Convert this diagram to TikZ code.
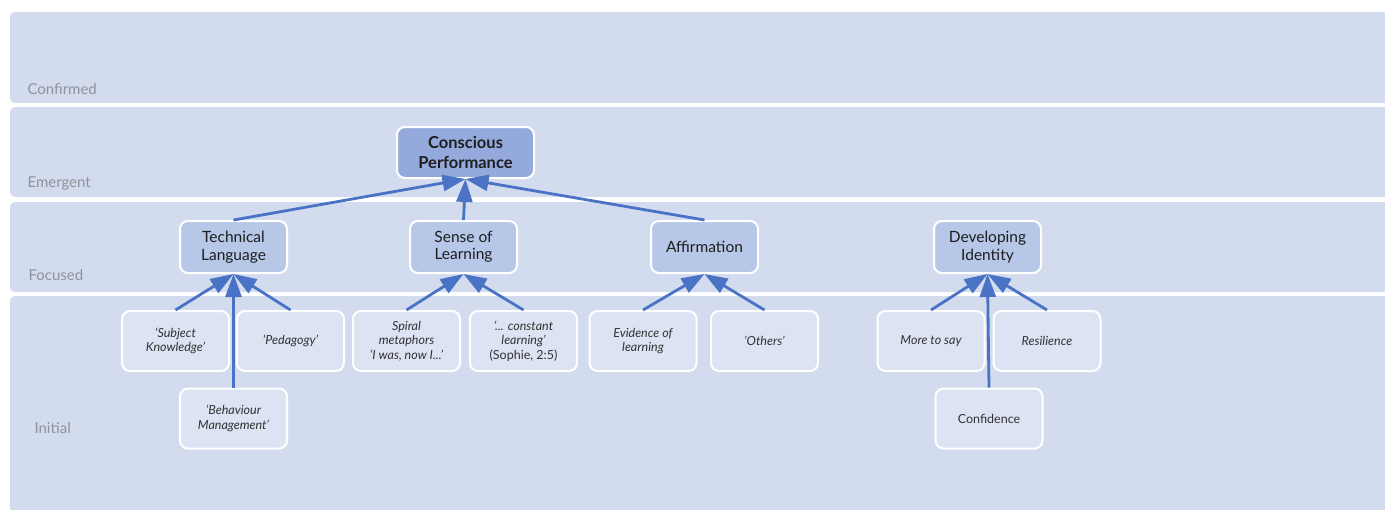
\documentclass[tikz,border=0pt]{standalone}
\usepackage{fontspec}
\setmainfont{Lato}
\usetikzlibrary{arrows.meta}

\definecolor{bandfill}{HTML}{D3DCEE}
\definecolor{lvlgrey}{HTML}{8E929A}
\definecolor{corefill}{HTML}{95AADC}
\definecolor{focusfill}{HTML}{B6C7E8}
\definecolor{codefill}{HTML}{DCE3F3}
\definecolor{linkblue}{HTML}{4A73C6}
\definecolor{textdark}{HTML}{1E1E1E}

\tikzset{
  band/.style={fill=bandfill, rounded corners=5pt},
  lvl/.style={anchor=base west, text=lvlgrey, font=\fontsize{15}{17}\selectfont},
  focus/.style={draw=white, line width=2pt, rounded corners=8pt, fill=focusfill,
    minimum width=107pt, minimum height=52pt, inner sep=2pt, align=center,
    text=textdark, font=\fontsize{15.5}{17.5}\selectfont},
  core/.style={focus, fill=corefill, minimum width=137pt, minimum height=51pt,
    font=\bfseries\fontsize{16.5}{20}\selectfont},
  code/.style={focus, fill=codefill, minimum height=60pt, text=black!80,
    font=\itshape\fontsize{12.5}{14.5}\selectfont},
  link/.style={draw=linkblue, line width=2.8pt, -{Triangle[length=23pt,width=16pt]}}
}

\begin{document}
\begin{tikzpicture}[x=1pt,y=-1pt]
\clip (0,0) rectangle (1385,509);

%Ebenen
\foreach \top/\bot in {12/103, 107/197, 202/292, 296/520}
{
	\fill[band] (10,\top) rectangle (1400,\bot);
}
\node[lvl] (lconf) at (24,94) {Confirmed};
\node[lvl] (lemer) at (24,187) {Emergent};
\node[lvl] (lfocu) at (25,280) {Focused};
\node[lvl] (linit) at (31,433) {Initial};

%Kategorien
\node[core] (cp) at (465.5,152.5) {Conscious\\Performance};
\node[focus] (tl) at (233.5,247) {Technical\\Language};
\node[focus] (sol) at (463.5,247) {Sense of\\Learning};
\node[focus] (aff) at (704.5,247) {Affirmation};
\node[focus] (di) at (987.5,247) {Developing\\Identity};

%Codes
\node[code] (sk) at (175.5,341) {‘Subject\\Knowledge’};
\node[code] (ped) at (290.5,341) {‘Pedagogy’};
\node[code] (spi) at (406.5,341) {Spiral\\metaphors\\‘I was, now I...’};
\node[code] (con) at (523.5,341) {‘... constant\\learning’\\\upshape(Sophie, 2:5)};
\node[code] (evi) at (643,341) {Evidence of\\learning};
\node[code] (oth) at (764.5,341) {'Others'};
\node[code] (mts) at (931,341) {More to say};
\node[code] (res) at (1047,341) {Resilience};
\node[code] (beh) at (233.5,418.5) {‘Behaviour\\Management’};
\node[code, font=\upshape\fontsize{12.5}{14.5}\selectfont] (conf) at (989,418.5) {Confidence};

%Pfeile
\foreach \from/\to in {tl/cp, sol/cp, aff/cp, sk/tl, ped/tl, beh/tl,
  spi/sol, con/sol, evi/aff, oth/aff, mts/di, res/di, conf/di}
{
	\draw[link] (\from.north) -- (\to.south);
}

\end{tikzpicture}
\end{document}
